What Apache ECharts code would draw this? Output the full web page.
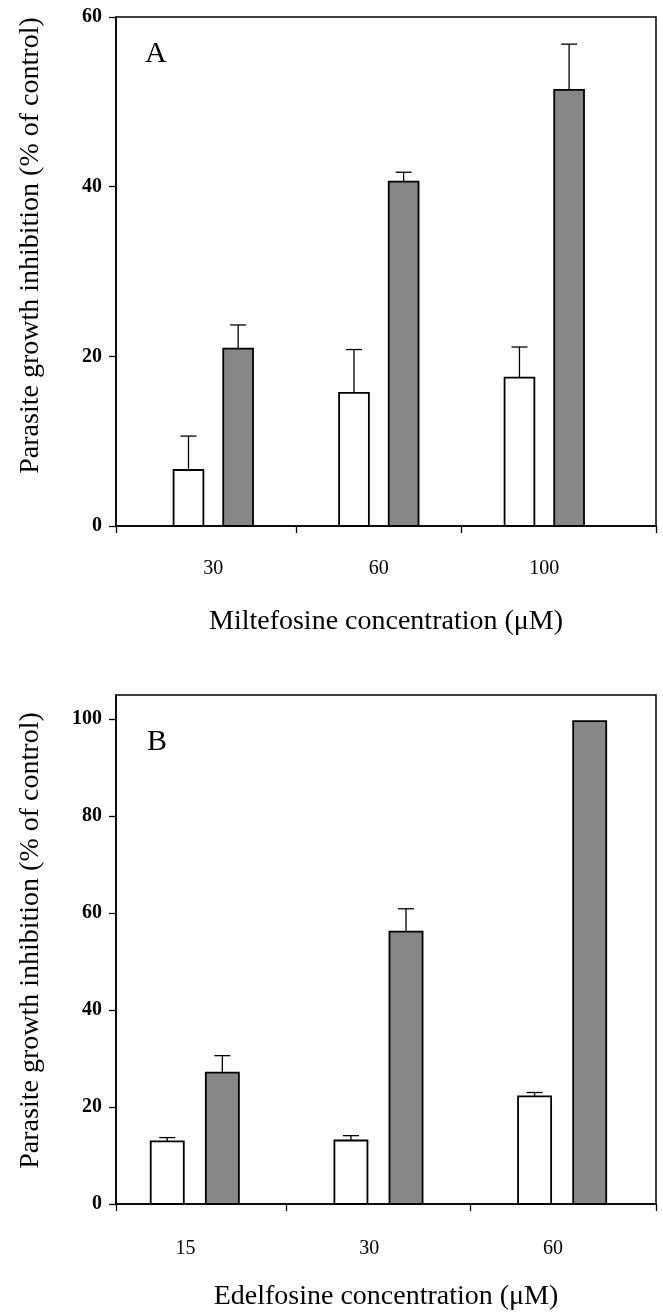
<!DOCTYPE html>
<html>
<head>
<meta charset="utf-8">
<script src="https://cdn.jsdelivr.net/npm/echarts@6/dist/echarts.min.js"></script>
<style>
  html, body { margin: 0; padding: 0; background: #fff; }
  #chart { width: 663px; height: 1315px; }
</style>
</head>
<body>
<div id="chart"></div>
<script>
// ---- Data ----
const categoriesA = ['30', '60', '100'];
const whiteA = [6.6, 15.7, 17.5];
const whiteErrA = [4.0, 5.1, 3.6];
const grayA = [20.9, 40.6, 51.4];
const grayErrA = [2.8, 1.1, 5.4];

const categoriesB = ['15', '30', '60'];
const whiteB = [12.9, 13.1, 22.2];
const whiteErrB = [0.8, 1.0, 0.8];
const grayB = [27.1, 56.2, 99.6];
const grayErrB = [3.5, 4.7, 0];

const yTicksA = [0, 20, 40, 60];
const yTicksB = [0, 20, 40, 60, 80, 100];

const titleXA = 'Miltefosine concentration (\u03bcM)';
const titleXB = 'Edelfosine concentration (\u03bcM)';
const titleY = 'Parasite growth inhibition (% of control)';

// ---- Styling / layout ----
const FONT = "'Liberation Serif', 'Times New Roman', serif";
const GRAY = '#878787';
const BAR_W = 0.18;      // bar width in axis units
const BAR_OFF = 0.15;    // half distance between paired bars
const CAP = 8;           // error cap half width (px)

function build(vals, errs) {
  return vals.map((v, i) => [i + 0.5, v, errs[i]]);
}

function renderer(offset, fill) {
  return function (params, api) {
    const x = api.value(0) + offset;
    const v = api.value(1);
    const e = api.value(2);
    const p0 = api.coord([x - BAR_W / 2, 0]);
    const p1 = api.coord([x + BAR_W / 2, v]);
    const children = [{
      type: 'rect',
      shape: { x: p0[0], y: p1[1], width: p1[0] - p0[0], height: p0[1] - p1[1] },
      style: { fill: fill, stroke: '#000', lineWidth: 1.8 }
    }];
    if (e > 0) {
      const a = api.coord([x, v]);
      const b = api.coord([x, v + e]);
      children.push({
        type: 'line', shape: { x1: a[0], y1: a[1], x2: b[0], y2: b[1] },
        style: { stroke: '#000', lineWidth: 1.3 }
      });
      children.push({
        type: 'line', shape: { x1: b[0] - CAP, y1: b[1], x2: b[0] + CAP, y2: b[1] },
        style: { stroke: '#000', lineWidth: 1.3 }
      });
    }
    return { type: 'group', children: children };
  };
}

function xAxisCfg(gridIndex, min, max, cats, labelShift, name, labelMargin, nameGap) {
  return {
    type: 'value', gridIndex: gridIndex, min: min, max: max,
    splitLine: { show: false },
    axisLine: { show: true, onZero: false, lineStyle: { color: '#000', width: 1.6 } },
    axisTick: { show: true, length: 7, inside: false, lineStyle: { color: '#000', width: 1.3 },
      customValues: [min, 1, 2, max] },
    axisLabel: {
      show: true, margin: labelMargin, fontFamily: FONT, fontSize: 20, color: '#000',
      customValues: cats.map((c, i) => i + 0.5 + labelShift),
      formatter: function (v) { return cats[Math.floor(v)]; }
    },
    name: name, nameLocation: 'middle', nameGap: nameGap,
    nameTextStyle: { fontFamily: FONT, fontSize: 28, color: '#000' }
  };
}

function yAxisCfg(gridIndex, max, ticks, padShift) {
  return {
    type: 'value', gridIndex: gridIndex, min: 0, max: max, interval: 20,
    splitLine: { show: false },
    axisLine: { show: true, onZero: false, lineStyle: { color: '#000', width: 1.6 } },
    axisTick: { show: true, length: 7, lineStyle: { color: '#000', width: 1.3 }, customValues: ticks },
    axisLabel: { margin: 14, fontFamily: FONT, fontSize: 20, fontWeight: 'bold', color: '#000',
      customValues: ticks },
    name: titleY, nameLocation: 'middle', nameRotate: 90, nameGap: 71,
    nameTextStyle: { fontFamily: FONT, fontSize: 28, color: '#000', padding: [0, 0, 0, padShift] }
  };
}

const chart = echarts.init(document.getElementById('chart'), null, { renderer: 'canvas' });

chart.setOption({
  backgroundColor: '#fff',
  animation: false,
  grid: [
    { left: 116, right: 7, top: 17, height: 509, show: true, borderColor: '#000', borderWidth: 1.5 },
    { left: 116, right: 7, top: 695, height: 509, show: true, borderColor: '#000', borderWidth: 1.5 }
  ],
  xAxis: [
    xAxisCfg(0, -0.088, 3.175, categoriesA, 0, titleXA, 33, 82),
    xAxisCfg(1, 0.071, 3.011, categoriesB, -0.05, titleXB, 35, 79)
  ],
  yAxis: [
    yAxisCfg(0, 60, yTicksA, 52),
    yAxisCfg(1, 105, yTicksB, 18)
  ],
  graphic: [
    { type: 'text', left: 145, top: 39, style: { text: 'A', fontFamily: FONT, fontSize: 30, fill: '#000' } },
    { type: 'text', left: 147, top: 727, style: { text: 'B', fontFamily: FONT, fontSize: 30, fill: '#000' } }
  ],
  series: [
    { type: 'custom', xAxisIndex: 0, yAxisIndex: 0, clip: false, data: build(whiteA, whiteErrA), renderItem: renderer(-BAR_OFF, '#fff') },
    { type: 'custom', xAxisIndex: 0, yAxisIndex: 0, clip: false, data: build(grayA, grayErrA), renderItem: renderer(BAR_OFF, GRAY) },
    { type: 'custom', xAxisIndex: 1, yAxisIndex: 1, clip: false, data: build(whiteB, whiteErrB), renderItem: renderer(-BAR_OFF, '#fff') },
    { type: 'custom', xAxisIndex: 1, yAxisIndex: 1, clip: false, data: build(grayB, grayErrB), renderItem: renderer(BAR_OFF, GRAY) }
  ]
});
</script>
</body>
</html>
